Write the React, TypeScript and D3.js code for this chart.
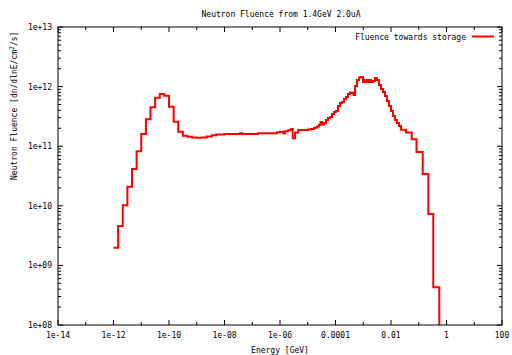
import React from "react";
import * as d3 from "d3";

const title = "Neutron Fluence from 1.4GeV 2.0uA";
const legendLabel = "Fluence towards storage";
const xLabel = "Energy [GeV]";

// Energy bin edges [GeV] and fluence [dn/dlnE/cm^2/s]
const energies = [
  1e-12, 1.47e-12, 2.15e-12, 3.16e-12, 4.64e-12, 6.81e-12,
  1e-11, 1.47e-11, 2.15e-11, 3.16e-11, 4.64e-11, 6.81e-11,
  1e-10, 1.47e-10, 2.15e-10, 3.16e-10, 4.64e-10, 6.81e-10,
  1e-9, 1.47e-9, 2.3e-9, 3.5e-9, 5e-9, 1e-8, 3.6e-8, 4.3e-8,
  1.6e-7, 7.8e-7, 1e-6, 1.3e-6, 1.5e-6, 1.94e-6, 2.5e-6, 2.87e-6,
  3.5e-6, 4.5e-6, 6.7e-6, 1.02e-5, 1.31e-5, 1.68e-5, 2.15e-5, 2.54e-5,
  2.88e-5, 3.26e-5, 3.85e-5, 4.55e-5, 5.37e-5, 6.34e-5, 7.48e-5, 8.83e-5,
  1.04e-4, 1.23e-4, 1.45e-4, 1.71e-4, 2.02e-4, 2.39e-4, 2.82e-4, 3.33e-4,
  3.93e-4, 4.46e-4, 5.05e-4, 5.96e-4, 7.03e-4, 8.3e-4, 9.8e-4, 1.16e-3,
  1.36e-3, 1.61e-3, 1.9e-3, 2.24e-3, 2.65e-3, 3.13e-3, 3.7e-3, 4.36e-3,
  5.15e-3, 6.08e-3, 7.18e-3, 8.48e-3, 1.0e-2, 1.18e-2, 1.39e-2, 1.64e-2,
  1.94e-2, 2.29e-2, 3.47e-2, 5.57e-2, 8.3e-2, 0.139, 0.221, 0.334, 0.55,
];
const fluence = [
  1.98e9, 4.6e9, 1.02e10, 2.09e10, 4.14e10, 8.2e10,
  1.6e11, 2.83e11, 4.5e11, 6.5e11, 7.5e11, 7.0e11,
  4.6e11, 2.58e11, 1.75e11, 1.5e11, 1.44e11, 1.4e11,
  1.39e11, 1.4e11, 1.46e11, 1.53e11, 1.57e11, 1.6e11, 1.65e11, 1.6e11,
  1.65e11, 1.71e11, 1.74e11, 1.65e11, 1.78e11, 1.85e11, 1.95e11, 1.36e11,
  1.69e11, 1.87e11, 1.87e11, 1.9e11, 1.95e11, 2.03e11, 2.15e11, 2.28e11,
  2.55e11, 2.32e11, 2.45e11, 2.75e11, 2.97e11, 3.1e11, 3.48e11, 3.75e11,
  3.9e11, 4.72e11, 5.3e11, 5.5e11, 6.2e11, 6.7e11, 7.5e11, 7.95e11,
  7.8e11, 7.2e11, 1.02e12, 1.29e12, 1.42e12, 1.45e12, 1.19e12, 1.29e12,
  1.19e12, 1.29e12, 1.19e12, 1.24e12, 1.39e12, 1.29e12, 1.06e12, 9.1e11,
  8.1e11, 6.95e11, 5.73e11, 4.72e11, 3.9e11, 3.21e11, 2.75e11, 2.45e11,
  2.18e11, 1.88e11, 1.69e11, 1.31e11, 8.0e10, 3.42e10, 7.3e9, 4.3e8, 1e8,
];

const xTickValues = [1e-14, 1e-12, 1e-10, 1e-8, 1e-6, 1e-4, 1e-2, 1, 100];
const xTickLabels = ["1e-14", "1e-12", "1e-10", "1e-08", "1e-06", "0.0001", "0.01", "1", "100"];
const xMinorTicks = [1e-13, 1e-11, 1e-9, 1e-7, 1e-5, 1e-3, 1e-1, 10];
const yTickValues = [1e8, 1e9, 1e10, 1e11, 1e12, 1e13];
const yTickLabels = ["1e+08", "1e+09", "1e+10", "1e+11", "1e+12", "1e+13"];
const yMinorMultipliers = [2, 3, 4, 5, 6, 7, 8, 9];

const W = 512;
const H = 355;
const L = 58;
const R = 502;
const T = 27;
const B = 325;
const FONT = "'DejaVu Sans Mono', monospace";

export default function App() {
  const x = d3.scaleLog().domain([1e-14, 100]).range([L, R]);
  const y = d3.scaleLog().domain([1e8, 1e13]).range([B, T]);

  const pts = energies.map((e, i) => [e, fluence[i]] as [number, number]);
  const line = d3
    .line<[number, number]>()
    .x((d) => x(d[0]))
    .y((d) => y(d[1]))
    .curve(d3.curveStepAfter);

  const yMinor: number[] = [];
  yTickValues.slice(0, -1).forEach((v) =>
    yMinorMultipliers.forEach((m) => yMinor.push(v * m))
  );

  const major = 5;
  const minor = 3;

  return (
    <svg
      width={W}
      height={H}
      style={{ position: "absolute", left: 0, top: 0, background: "#fff" }}
      fontFamily={FONT}
      fontSize={8}
    >
      <defs>
        <clipPath id="plotclip">
          <rect x={L} y={T} width={R - L} height={B - T} />
        </clipPath>
      </defs>
      <rect x={0} y={0} width={W} height={H} fill="#fff" />

      {/* x ticks */}
      {xTickValues.map((v, i) => (
        <g key={"xt" + i}>
          <line x1={x(v)} x2={x(v)} y1={B} y2={B - major} stroke="#000" />
          <line x1={x(v)} x2={x(v)} y1={T} y2={T + major} stroke="#000" />
          <text x={x(v)} y={338} textAnchor="middle" fill="#000">
            {xTickLabels[i]}
          </text>
        </g>
      ))}
      {xMinorTicks.map((v, i) => (
        <g key={"xm" + i}>
          <line x1={x(v)} x2={x(v)} y1={B} y2={B - minor} stroke="#000" />
          <line x1={x(v)} x2={x(v)} y1={T} y2={T + minor} stroke="#000" />
        </g>
      ))}

      {/* y ticks */}
      {yTickValues.map((v, i) => (
        <g key={"yt" + i}>
          <line x1={L} x2={L + major} y1={y(v)} y2={y(v)} stroke="#000" />
          <line x1={R} x2={R - major} y1={y(v)} y2={y(v)} stroke="#000" />
          <text x={52} y={y(v) + 3} textAnchor="end" fill="#000">
            {yTickLabels[i]}
          </text>
        </g>
      ))}
      {yMinor.map((v, i) => (
        <g key={"ym" + i}>
          <line x1={L} x2={L + minor} y1={y(v)} y2={y(v)} stroke="#000" />
          <line x1={R} x2={R - minor} y1={y(v)} y2={y(v)} stroke="#000" />
        </g>
      ))}

      {/* data */}
      <path
        d={line(pts) || ""}
        fill="none"
        stroke="#ff0000"
        strokeWidth={2}
        clipPath="url(#plotclip)"
      />

      {/* frame */}
      <rect x={L} y={T} width={R - L} height={B - T} fill="none" stroke="#000" strokeWidth={1} />

      {/* legend */}
      <text x={466} y={39.5} textAnchor="end" fill="#000">
        {legendLabel}
      </text>
      <line x1={472} x2={494} y1={36.5} y2={36.5} stroke="#ff0000" strokeWidth={2} />

      {/* title */}
      <text x={281} y={17} textAnchor="middle" fill="#000">
        {title}
      </text>

      {/* axis labels */}
      <text x={280} y={353} textAnchor="middle" fill="#000">
        {xLabel}
      </text>
      <text transform="translate(16.5,180) rotate(-90)" textAnchor="start" fill="#000">
        Neutron Fluence [dn/dlnE/cm
        <tspan dy={-3} fontSize={6.5}>2</tspan>
        <tspan dy={3}>/s]</tspan>
      </text>
    </svg>
  );
}
